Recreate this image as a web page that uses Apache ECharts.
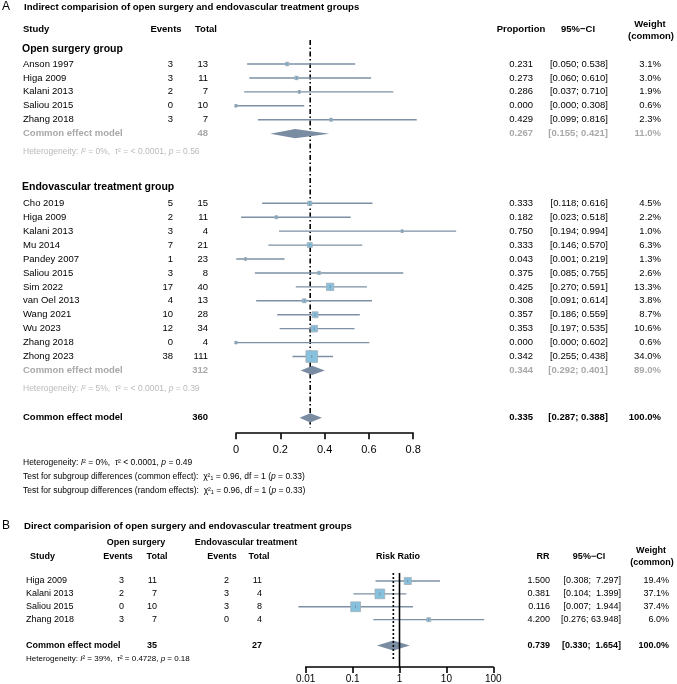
<!DOCTYPE html>
<html>
<head>
<meta charset="utf-8">
<title>Forest plots</title>
<script src="https://cdn.jsdelivr.net/npm/echarts@6.0.0/dist/echarts.min.js"></script>
<style>
  html, body { margin: 0; padding: 0; background: #fff; }
  #chart { width: 677px; height: 684px; }
</style>
</head>
<body>
<div id="chart"></div>
<script>
// ---- panel A : proportions, open surgery group ----
const openStudies = ['Anson 1997', 'Higa 2009', 'Kalani 2013', 'Saliou 2015', 'Zhang 2018'];
const openEvents = [3, 3, 2, 0, 3];
const openTotal = [13, 11, 7, 10, 7];
const openProp = [0.231, 0.273, 0.286, 0.000, 0.429];
const openLower = [0.050, 0.060, 0.037, 0.000, 0.099];
const openUpper = [0.538, 0.610, 0.710, 0.308, 0.816];
const openWeight = [3.1, 3.0, 1.9, 0.6, 2.3];
const openPooled = [0.267, 0.155, 0.421, 48, 11.0];
const openHet = ['0%', '= < 0.0001', '0.56'];

// ---- panel A : endovascular treatment group ----
const endoStudies = ['Cho 2019', 'Higa 2009', 'Kalani 2013', 'Mu 2014', 'Pandey 2007', 'Saliou 2015',
  'Sim 2022', 'van Oel 2013', 'Wang 2021', 'Wu 2023', 'Zhang 2018', 'Zhong 2023'];
const endoEvents = [5, 2, 3, 7, 1, 3, 17, 4, 10, 12, 0, 38];
const endoTotal = [15, 11, 4, 21, 23, 8, 40, 13, 28, 34, 4, 111];
const endoProp = [0.333, 0.182, 0.750, 0.333, 0.043, 0.375, 0.425, 0.308, 0.357, 0.353, 0.000, 0.342];
const endoLower = [0.118, 0.023, 0.194, 0.146, 0.001, 0.085, 0.270, 0.091, 0.186, 0.197, 0.000, 0.255];
const endoUpper = [0.616, 0.518, 0.994, 0.570, 0.219, 0.755, 0.591, 0.614, 0.559, 0.535, 0.602, 0.438];
const endoWeight = [4.5, 2.2, 1.0, 6.3, 1.3, 2.6, 13.3, 3.8, 8.7, 10.6, 0.6, 34.0];
const endoPooled = [0.344, 0.292, 0.401, 312, 89.0];
const endoHet = ['5%', '= < 0.0001', '0.39'];

const allPooled = [0.335, 0.287, 0.388, 360, 100.0];
const allHet = ['0%', '< 0.0001', '0.49'];
const subgroupTest = ['0.96', '1', '0.33'];
const aTicks = [0, 0.2, 0.4, 0.6, 0.8];

// ---- panel B : risk ratios ----
const rrStudies = ['Higa 2009', 'Kalani 2013', 'Saliou 2015', 'Zhang 2018'];
const osEvents = [3, 2, 0, 3];
const osTotal = [11, 7, 10, 7];
const evEvents = [2, 3, 3, 0];
const evTotal = [11, 4, 8, 4];
const rr = [1.500, 0.381, 0.116, 4.200];
const rrLower = [0.308, 0.104, 0.007, 0.276];
const rrUpper = [7.297, 1.399, 1.944, 63.948];
const rrWeight = [19.4, 37.1, 37.4, 6.0];
const rrPooled = [0.739, 0.330, 1.654, 35, 27, 100.0];
const rrHet = ['39%', '= 0.4728', '0.18'];
const bTicks = [0.01, 0.1, 1, 10, 100];

// layout
const FF = '"Liberation Sans", Arial, Helvetica, sans-serif';
const LINE = '#7d90a5';
const SQUARE = '#86c2dd';
const SQ_BORDER = '#a3adb8';
const DIAMOND = '#7a8ca1';
const GREY = '#a8a8a8';
const LIGHT = '#b9b9b9';

const A_ROW = 13.93, A_Y0 = 64;
const yA = r => A_Y0 + A_ROW * r;
const B_ROW = 12.9, B_Y0 = 581;
const yB = r => B_Y0 + B_ROW * r;

function font(size, bold) {
  return (bold ? 'bold ' : '') + size + 'px ' + FF;
}
function T(x, y, text, o) {
  o = o || {};
  const al = o.align || 'left';
  const st = {
    text: text, font: font(o.size || 9.5, o.bold), fill: o.color || '#000',
    textAlign: al, align: al, textVerticalAlign: 'middle', verticalAlign: 'middle'
  };
  if (o.rich) st.rich = o.rich;
  return { type: 'text', x: x, y: y, silent: true, style: st };
}
function italic(size, color) {
  return { i: { fontStyle: 'italic', fontSize: size, fontFamily: FF, fill: color } };
}
function hetLine(h) {
  return 'Heterogeneity: {i|I}\u00b2 = ' + h[0] + ',  {i|\u03c4}\u00b2 ' + h[1] + ', {i|p} = ' + h[2];
}
const f3 = v => v.toFixed(3);
const ciA = (lo, hi) => '[' + f3(lo) + '; ' + f3(hi) + ']';
const ciB = (lo, hi) => '[' + f3(lo) + '; ' + f3(hi).padStart(6, ' ') + ']';
const pct = w => w.toFixed(1) + '%';

// ---- text of panel A ----
const g = [];
g.push(T(2, 7, 'A', { size: 12 }));
g.push(T(24, 7, 'Indirect comparision of open surgery and endovascular treatment groups', { size: 9.6, bold: true }));
g.push(T(23, yA(-2.5), 'Study', { bold: true }));
g.push(T(166, yA(-2.5), 'Events', { bold: true, align: 'center' }));
g.push(T(206, yA(-2.5), 'Total', { bold: true, align: 'center' }));
g.push(T(521, yA(-2.5), 'Proportion', { bold: true, align: 'center' }));
g.push(T(578, yA(-2.5), '95%\u2212CI', { bold: true, align: 'center' }));
g.push(T(650, yA(-2.87), 'Weight', { bold: true, align: 'center' }));
g.push(T(651, yA(-2.0), '(common)', { bold: true, align: 'center' }));

function studyRows(names, ev, tot, p, lo, hi, w, startRow) {
  names.forEach((n, i) => {
    const y = yA(startRow + i);
    g.push(T(23, y, n));
    g.push(T(173, y, String(ev[i]), { align: 'right' }));
    g.push(T(208, y, String(tot[i]), { align: 'right' }));
    g.push(T(533, y, f3(p[i]), { align: 'right' }));
    g.push(T(608, y, ciA(lo[i], hi[i]), { align: 'right' }));
    g.push(T(661, y, pct(w[i]), { align: 'right' }));
  });
}
function pooledRow(pl, row, color) {
  const y = yA(row);
  const o = { bold: true, color: color };
  g.push(T(23, y, 'Common effect model', o));
  g.push(T(208, y, String(pl[3]), Object.assign({ align: 'right' }, o)));
  g.push(T(533, y, f3(pl[0]), Object.assign({ align: 'right' }, o)));
  g.push(T(608, y, ciA(pl[1], pl[2]), Object.assign({ align: 'right' }, o)));
  g.push(T(661, y, pct(pl[4]), Object.assign({ align: 'right' }, o)));
}

g.push(T(22, yA(-1.05), 'Open surgery group', { size: 10.5, bold: true }));
studyRows(openStudies, openEvents, openTotal, openProp, openLower, openUpper, openWeight, 0);
pooledRow(openPooled, 5, GREY);
g.push(T(23, yA(6.3), hetLine(openHet), { size: 8.5, color: LIGHT, rich: italic(8.5, LIGHT) }));

g.push(T(22, yA(8.85), 'Endovascular treatment group', { size: 10.5, bold: true }));
studyRows(endoStudies, endoEvents, endoTotal, endoProp, endoLower, endoUpper, endoWeight, 10);
pooledRow(endoPooled, 22, GREY);
g.push(T(23, yA(23.3), hetLine(endoHet), { size: 8.5, color: LIGHT, rich: italic(8.5, LIGHT) }));

pooledRow(allPooled, 25.4, '#000');
g.push(T(23, 463, hetLine(allHet), { size: 8.5, rich: italic(8.5, '#000') }));
['common effect', 'random effects'].forEach((m, k) => {
  g.push(T(23, 477 + k * 14, 'Test for subgroup differences (' + m + '):  \u03c7\u00b2\u2081 = ' + subgroupTest[0] +
    ', df = ' + subgroupTest[1] + ' ({i|p} = ' + subgroupTest[2] + ')', { size: 8.5, rich: italic(8.5, '#000') }));
});

// ---- text of panel B ----
g.push(T(2, 526, 'B', { size: 12 }));
g.push(T(24, 526, 'Direct comparision of open surgery and endovascular treatment groups', { size: 9.6, bold: true }));
const hb = { bold: true, size: 9, align: 'center' };
g.push(T(136, yB(-2.95), 'Open surgery', hb));
g.push(T(246, yB(-2.95), 'Endovascular treatment', hb));
g.push(T(30, yB(-1.86), 'Study', { bold: true, size: 9 }));
g.push(T(118, yB(-1.86), 'Events', hb));
g.push(T(157, yB(-1.86), 'Total', hb));
g.push(T(222, yB(-1.86), 'Events', hb));
g.push(T(259, yB(-1.86), 'Total', hb));
g.push(T(398, yB(-1.86), 'Risk Ratio', hb));
g.push(T(543, yB(-1.86), 'RR', hb));
g.push(T(589, yB(-1.86), '95%\u2212CI', hb));
g.push(T(651, yB(-2.34), 'Weight', hb));
g.push(T(652, yB(-1.4), '(common)', hb));
rrStudies.forEach((n, i) => {
  const y = yB(i);
  const o = { size: 9, align: 'right' };
  g.push(T(26, y, n, { size: 9 }));
  g.push(T(124, y, String(osEvents[i]), o));
  g.push(T(157, y, String(osTotal[i]), o));
  g.push(T(229, y, String(evEvents[i]), o));
  g.push(T(262, y, String(evTotal[i]), o));
  g.push(T(550, y, f3(rr[i]), o));
  g.push(T(621, y, ciB(rrLower[i], rrUpper[i]), o));
  g.push(T(669, y, pct(rrWeight[i]), o));
});
(function () {
  const y = yB(5);
  const o = { size: 9, bold: true, align: 'right' };
  g.push(T(26, y, 'Common effect model', { size: 9, bold: true }));
  g.push(T(157, y, String(rrPooled[3]), o));
  g.push(T(262, y, String(rrPooled[4]), o));
  g.push(T(550, y, f3(rrPooled[0]), o));
  g.push(T(621, y, ciB(rrPooled[1], rrPooled[2]), o));
  g.push(T(669, y, pct(rrPooled[5]), o));
  g.push(T(26, yB(6.05), hetLine(rrHet), { size: 8, rich: italic(8, '#000') }));
})();

// ---- marks ----
function studyRenderer(k) {
  return function (params, api) {
    const r = api.value(3);
    const p = api.coord([api.value(0), r]);
    const lo = api.coord([api.value(1), r]);
    const hi = api.coord([api.value(2), r]);
    const s = Math.max(2.6, k * Math.sqrt(api.value(4)));
    return {
      type: 'group', children: [
        { type: 'line', shape: { x1: lo[0], y1: p[1], x2: hi[0], y2: p[1] }, style: { stroke: LINE, lineWidth: 1.4 } },
        { type: 'rect', shape: { x: p[0] - s / 2, y: p[1] - s / 2, width: s, height: s }, style: { fill: SQUARE, stroke: SQ_BORDER, lineWidth: 0.8 } },
        { type: 'line', shape: { x1: p[0], y1: p[1] - 1.5, x2: p[0], y2: p[1] + 1.5 }, style: { stroke: LINE, lineWidth: 1 } }
      ]
    };
  };
}
function diamondRenderer(h) {
  return function (params, api) {
    const r = api.value(3);
    const c = api.coord([api.value(0), r]);
    const lo = api.coord([api.value(1), r]);
    const hi = api.coord([api.value(2), r]);
    return {
      type: 'polygon',
      shape: { points: [[lo[0], c[1]], [c[0], c[1] - h], [hi[0], c[1]], [c[0], c[1] + h]] },
      style: { fill: DIAMOND }
    };
  };
}
function vlineRenderer(params, api) {
  const a = api.coord([api.value(0), api.value(1)]);
  const b = api.coord([api.value(0), api.value(2)]);
  const kind = api.value(3);
  const dash = kind === 0 ? [5, 2.5, 1.5, 2.5] : kind === 1 ? null : [2, 2];
  return {
    type: 'line', shape: { x1: a[0], y1: a[1], x2: b[0], y2: b[1] },
    style: { stroke: '#000', lineWidth: 1.6, lineDash: dash }
  };
}

const aStudyData = [];
openStudies.forEach((n, i) => aStudyData.push([openProp[i], openLower[i], openUpper[i], i, openWeight[i]]));
endoStudies.forEach((n, i) => aStudyData.push([endoProp[i], endoLower[i], endoUpper[i], 10 + i, endoWeight[i]]));
const aPooledData = [
  [openPooled[0], openPooled[1], openPooled[2], 5],
  [endoPooled[0], endoPooled[1], endoPooled[2], 22],
  [allPooled[0], allPooled[1], allPooled[2], 25.4]
];
const bStudyData = rrStudies.map((n, i) => [rr[i], rrLower[i], rrUpper[i], i, rrWeight[i]]);

const axisCommon = {
  axisLine: { show: true, onZero: false, lineStyle: { color: '#000', width: 1.6 } },
  axisTick: { show: true, length: 6, lineStyle: { color: '#000', width: 1.6 } },
  splitLine: { show: false }
};

const chart = echarts.init(document.getElementById('chart'), null, { renderer: 'canvas' });
chart.setOption({
  animation: false,
  backgroundColor: '#fff',
  grid: [
    { left: 236, width: 177.2, top: yA(-3), height: A_ROW * 29.5 },
    { left: 305.7, width: 187.6, top: yB(-3), height: B_ROW * 9.67 }
  ],
  xAxis: [
    Object.assign({
      gridIndex: 0, type: 'value', position: 'bottom', min: aTicks[0], max: aTicks[aTicks.length - 1], interval: 0.2,
      axisLabel: { margin: 11, fontSize: 11, color: '#000', fontFamily: FF, formatter: v => String(+v.toFixed(1)) }
    }, axisCommon),
    Object.assign({
      gridIndex: 1, type: 'log', logBase: 10, position: 'bottom', min: bTicks[0], max: bTicks[bTicks.length - 1], splitNumber: 4,
      axisLabel: { margin: 7, fontSize: 10, color: '#000', fontFamily: FF, formatter: v => String(+(+v).toPrecision(2)) }
    }, axisCommon)
  ],
  yAxis: [
    { gridIndex: 0, type: 'value', min: -3, max: 26.5, inverse: true, show: false },
    { gridIndex: 1, type: 'value', min: -3, max: 6.67, inverse: true, show: false }
  ],
  series: [
    { type: 'custom', xAxisIndex: 0, yAxisIndex: 0, z: 1, renderItem: vlineRenderer,
      encode: { x: 0, y: [1, 2] }, data: [[allPooled[0], -1.72, 26.1, 0]] },
    { type: 'custom', xAxisIndex: 0, yAxisIndex: 0, z: 2, renderItem: studyRenderer(2.0),
      encode: { x: [0, 1, 2], y: 3 }, data: aStudyData },
    { type: 'custom', xAxisIndex: 0, yAxisIndex: 0, z: 2, renderItem: diamondRenderer(4.6),
      encode: { x: [0, 1, 2], y: 3 }, data: aPooledData },
    { type: 'custom', xAxisIndex: 1, yAxisIndex: 1, z: 2, renderItem: studyRenderer(1.6),
      encode: { x: [0, 1, 2], y: 3 }, data: bStudyData },
    { type: 'custom', xAxisIndex: 1, yAxisIndex: 1, z: 2, renderItem: diamondRenderer(5),
      encode: { x: [0, 1, 2], y: 3 }, data: [[rrPooled[0], rrPooled[1], rrPooled[2], 5]] },
    { type: 'custom', xAxisIndex: 1, yAxisIndex: 1, z: 3, renderItem: vlineRenderer,
      encode: { x: 0, y: [1, 2] }, data: [[1, -0.62, 6.67, 1], [rrPooled[0], -0.62, 6.1, 2]] }
  ],
  graphic: { elements: g }
});
</script>
</body>
</html>
